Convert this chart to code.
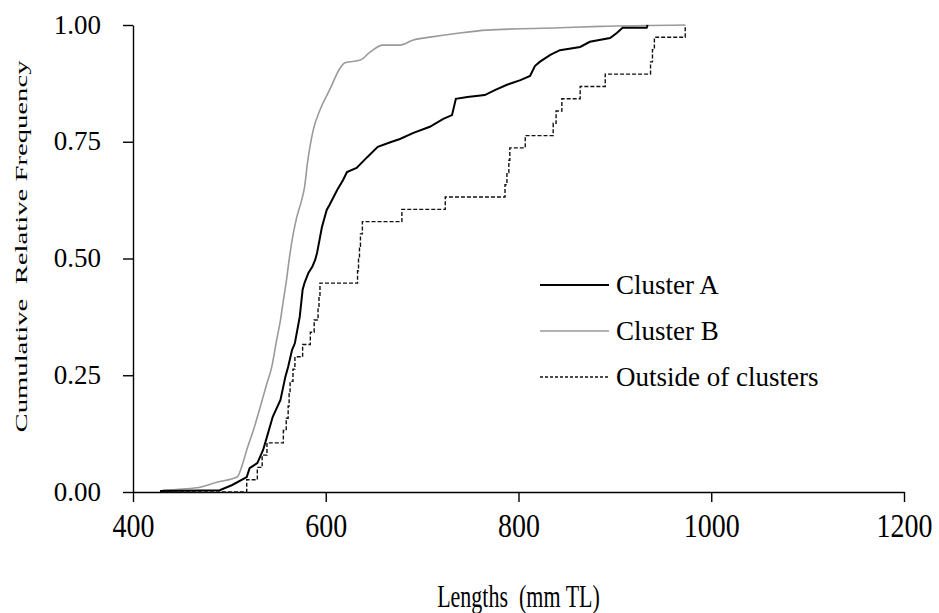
<!DOCTYPE html>
<html>
<head>
<meta charset="utf-8">
<script src="https://cdn.jsdelivr.net/npm/d3@7"></script>
<style>
  body { margin: 0; background: #fff; }
  text { font-family: "Liberation Serif", "Times New Roman", serif; fill: #000; white-space: pre; }
</style>
</head>
<body>
<div id="root"></div>
<script>
// cumulative curves (length in mm TL, cumulative relative frequency)
let clusterALengths = [428, 490, 503, 518, 521, 529, 535, 539, 545, 553, 558, 561, 565, 568, 573, 576, 578, 582, 586, 589, 591, 596, 601, 604, 612, 618, 622, 632, 643, 654, 667, 677, 691, 708, 722, 731, 735, 747, 765, 776, 788, 802, 812, 817, 822, 833, 843, 864, 874, 895, 902, 908, 933, 934];
let clusterAFreq = [0.002, 0.004, 0.015, 0.032, 0.051, 0.062, 0.090, 0.118, 0.161, 0.197, 0.246, 0.268, 0.304, 0.319, 0.375, 0.433, 0.448, 0.469, 0.482, 0.497, 0.512, 0.567, 0.604, 0.615, 0.647, 0.668, 0.685, 0.694, 0.717, 0.739, 0.749, 0.756, 0.769, 0.782, 0.799, 0.807, 0.842, 0.846, 0.850, 0.861, 0.872, 0.882, 0.891, 0.912, 0.921, 0.936, 0.946, 0.953, 0.964, 0.972, 0.983, 0.994, 0.994, 1.0];

let clusterBLengths = [431, 466, 487, 508, 514, 518, 525, 532, 539, 544, 549, 553, 556, 559, 562, 566, 570, 575, 578, 581, 587, 594, 604, 615, 620, 636, 646, 659, 677, 691, 708, 739, 767, 843, 885, 973];
let clusterBFreq = [0.004, 0.009, 0.021, 0.032, 0.062, 0.090, 0.133, 0.182, 0.233, 0.268, 0.325, 0.368, 0.410, 0.450, 0.497, 0.550, 0.589, 0.625, 0.653, 0.704, 0.775, 0.818, 0.861, 0.908, 0.919, 0.925, 0.942, 0.957, 0.957, 0.968, 0.974, 0.983, 0.989, 0.994, 0.997, 1.0];

// individual lengths of fish outside of clusters (sorted)
let outsideLengths = [518, 529, 534, 539, 556, 559, 561, 562, 563, 566, 568, 576, 584, 588, 592, 593, 594, 633, 634, 635, 636, 638, 679, 724, 786, 788, 790, 791, 807, 836, 839, 845, 864, 890, 937, 939, 941, 973];

let xTicks = [400, 600, 800, 1000, 1200];
let yTicks = [0, 0.25, 0.5, 0.75, 1];

let seriesNames = ["Cluster A", "Cluster B", "Outside of clusters"];

let width = 939,
  height = 613;
let margin = { top: 25, right: 35, bottom: 121, left: 133 };

let svg = d3
  .select("#root")
  .append("svg")
  .attr("width", width)
  .attr("height", height);

let x = d3
  .scaleLinear()
  .domain([400, 1200])
  .range([margin.left, width - margin.right]);
let y = d3
  .scaleLinear()
  .domain([0, 1])
  .range([height - margin.bottom, margin.top]);

// axes
let xAxis = svg
  .append("g")
  .attr("transform", `translate(0,${y(0)})`)
  .call(
    d3
      .axisBottom(x)
      .tickValues(xTicks)
      .tickFormat(d3.format("d"))
      .tickSize(10)
      .tickSizeOuter(0)
      .tickPadding(8)
  );
xAxis
  .selectAll("text")
  .style("font-size", "28px")
  .attr("transform", "scale(1,1.2)");

let yAxis = svg
  .append("g")
  .attr("transform", `translate(${x(400)},0)`)
  .call(
    d3
      .axisLeft(y)
      .tickValues(yTicks)
      .tickFormat(d3.format(".2f"))
      .tickSize(10)
      .tickSizeOuter(0)
      .tickPadding(22)
  );
yAxis
  .selectAll("text")
  .style("font-size", "27px")
  .attr("dy", "0.3em");

svg.selectAll(".domain, .tick line").attr("stroke", "#000").attr("stroke-width", 1.4);

// curves
let line = d3
  .line()
  .x(d => x(d[0]))
  .y(d => y(d[1]));

let dataB = clusterBLengths.map((v, i) => [v, clusterBFreq[i]]);
let dataA = clusterALengths.map((v, i) => [v, clusterAFreq[i]]);
let n = outsideLengths.length;
let dataOut = [[430, 0]].concat(outsideLengths.map((v, i) => [v, (i + 1) / n]));

svg
  .append("path")
  .datum(dataB)
  .attr("fill", "none")
  .attr("stroke", "#9a9a9a")
  .attr("stroke-width", 1.6)
  .attr("d", line.curve(d3.curveMonotoneX));

svg
  .append("path")
  .datum(dataOut)
  .attr("fill", "none")
  .attr("stroke", "#111")
  .attr("stroke-width", 1.4)
  .attr("stroke-dasharray", "4,2")
  .attr("d", line.curve(d3.curveStepAfter));

svg
  .append("path")
  .datum(dataA)
  .attr("fill", "none")
  .attr("stroke", "#000")
  .attr("stroke-width", 2)
  .attr("d", line.curve(d3.curveLinear));

// legend
let legendStyles = [
  { stroke: "#000", width: 2, dash: null },
  { stroke: "#9a9a9a", width: 1.6, dash: null },
  { stroke: "#111", width: 1.3, dash: "3,2" }
];
let legend = svg.append("g").attr("transform", "translate(540,285)");
seriesNames.forEach((name, i) => {
  let g = legend.append("g").attr("transform", `translate(0,${i * 46})`);
  g.append("line")
    .attr("x1", 0)
    .attr("x2", 69)
    .attr("stroke", legendStyles[i].stroke)
    .attr("stroke-width", legendStyles[i].width)
    .attr("stroke-dasharray", legendStyles[i].dash);
  g.append("text")
    .attr("x", 76)
    .attr("dy", "0.35em")
    .style("font-size", "27px")
    .text(name);
});

// axis titles
svg
  .append("text")
  .attr("transform", `translate(${x(800)},607) scale(1,1.45)`)
  .attr("text-anchor", "middle")
  .style("font-size", "22px")
  .text("Lengths  (mm TL)");

svg
  .append("text")
  .attr("transform", `translate(27,${y(0.5) - 12}) rotate(-90)`)
  .attr("text-anchor", "middle")
  .attr("textLength", 372)
  .attr("lengthAdjust", "spacingAndGlyphs")
  .style("font-size", "17px")
  .text("Cumulative  Relative Frequency");
</script>
</body>
</html>
